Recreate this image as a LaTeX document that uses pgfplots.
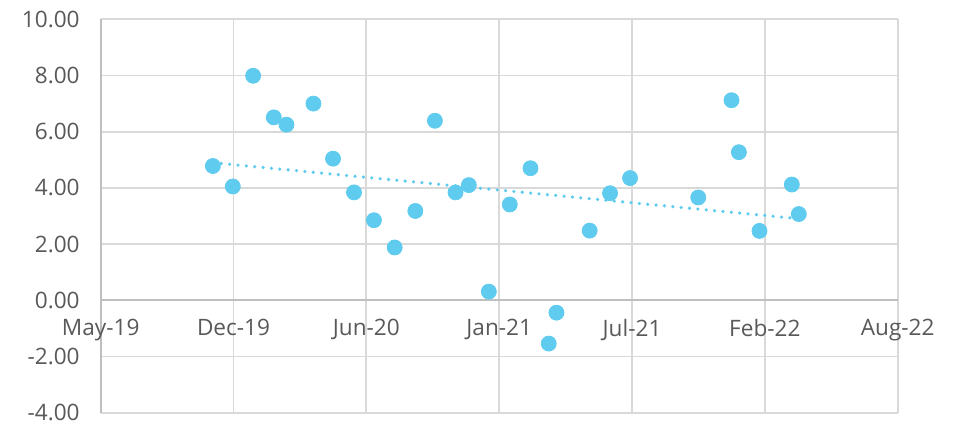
\documentclass[border=0pt]{standalone}
\usepackage{fontspec}
\setmainfont{Open Sans}
\usepackage{pgfplots}
\usepackage{pgfplotstable}
\pgfplotsset{compat=1.18}
\definecolor{pt}{RGB}{95,203,239}
\definecolor{gridc}{RGB}{217,217,217}
\definecolor{axc}{RGB}{191,191,191}
\definecolor{txt}{RGB}{89,89,89}
\pgfplotstableread{
x y
168.9 4.78
198.9 4.05
229.5 7.99
260.6 6.51
279.7 6.25
320.3 7.00
349.8 5.04
381.4 3.84
411.4 2.85
442.6 1.88
473.7 3.18
503.2 6.39
534.3 3.84
554.3 4.10
584.4 0.31
615.9 3.41
647.1 4.70
674.6 -1.54
686.2 -0.44
736.2 2.48
766.9 3.81
797.0 4.35
899.7 3.66
949.8 7.12
960.9 5.27
991.9 2.47
1040.6 4.12
1051.1 3.07
}\data
\begin{document}
\begin{tikzpicture}
\path[use as bounding box] (0,0) rectangle (482pt,212pt);
\begin{axis}[
  at={(50.35pt,5.65pt)}, anchor=south west,
  scale only axis, width=398.5pt, height=196.7pt,
  xmin=0, xmax=1200, ymin=-4, ymax=10,
  axis x line=middle, axis y line=left,
  hide obscured x ticks=false, hide obscured y ticks=false,
  axis line style={-, draw=axc, line width=0.9pt},
  xtick={0,200,...,1200},
  xticklabels={May-19,Dec-19,Jun-20,Jan-21,Jul-21,Feb-22,Aug-22},
  ytick={-4,-2,...,10},
  grid=major,
  major grid style={draw=gridc, line width=0.9pt},
  major tick length=0pt,
  tick style={draw=none},
  font=\fontsize{11.3pt}{13pt}\selectfont,
  tick label style={text=txt},
  yticklabel style={xshift=-7pt},
  xticklabel style={yshift=-6pt},
  /pgf/number format/.cd, fixed, fixed zerofill, precision=2, assume math mode=true,
]
\addplot[only marks, mark=*, mark size=3.75pt, mark options={fill=pt, draw=pt}] table[x=x,y=y] {\data};
\addplot[pt, line width=1.8pt, line cap=round, dash pattern=on 0pt off 4.2pt] table[x=x, y={create col/linear regression={y=y}}] {\data};
\end{axis}
\end{tikzpicture}
\end{document}
